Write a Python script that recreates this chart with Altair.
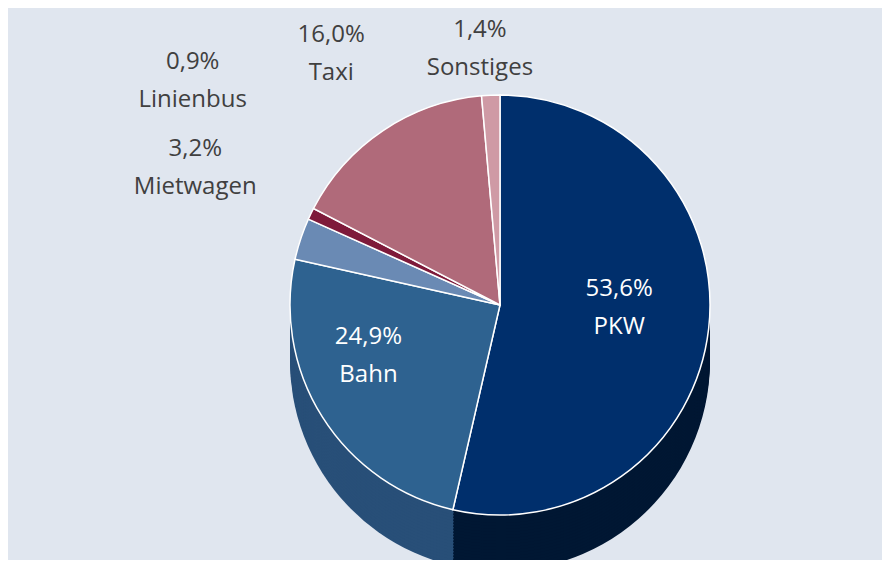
import altair as alt
import pandas as pd

categories = ["PKW", "Bahn", "Mietwagen", "Linienbus", "Taxi", "Sonstiges"]
values = [53.6, 24.9, 3.2, 0.9, 16.0, 1.4]
top_colors = ["#002f6c", "#2e6290", "#6a8ab4", "#7e1a3a", "#b06a7a", "#cf9aa5"]
side_colors = ["#001733", "#284f78", "#4f6b90", "#5a1028", "#8a4f5c", "#a77a84"]

df = pd.DataFrame({
    "cat": categories,
    "value": values,
    "idx": list(range(len(categories))),
    "pct": [f"{v:.1f}".replace(".", ",") + "%" for v in values],
})

# pie centre in view coordinates (page = view + 8)
CX, CY, R, DEPTH = 492, 297, 210, 56

theta = alt.Theta("value:Q", stack=True)
order = alt.Order("idx:Q")


def arc_layer(dy, colors, stroke):
    kw = dict(radius=R)
    if stroke:
        kw.update(stroke="white", strokeWidth=1.5)
    return alt.Chart(df).mark_arc(**kw).encode(
        theta=theta,
        order=order,
        color=alt.Color("cat:N", scale=alt.Scale(domain=categories, range=colors), legend=None),
        x=alt.value(CX),
        y=alt.value(CY + dy),
    )


layers = []
for off in range(DEPTH, 0, -3):
    layers.append(arc_layer(off, side_colors, False))
layers.append(arc_layer(0, top_colors, True))


def label_layer(name, radius, color, dx=0, dy=0):
    return alt.Chart(df).transform_calculate(
        lab=f"datum.cat == '{name}' ? datum.pct + '|' + datum.cat : ''"
    ).mark_text(
        radius=radius, fontSize=24, font="Open Sans", color=color,
        lineBreak="|", lineHeight=38, dx=dx, dy=dy,
    ).encode(
        theta=theta,
        order=order,
        text="lab:N",
        x=alt.value(CX),
        y=alt.value(CY),
    )


layers.append(label_layer("PKW", 120, "white", dx=0, dy=-30))
layers.append(label_layer("Bahn", 120, "white", dx=-30, dy=-32))
layers.append(label_layer("Mietwagen", 300, "#404040", dx=-20, dy=-62))
layers.append(label_layer("Linienbus", 380, "#404040", dx=35, dy=-78))
layers.append(label_layer("Taxi", 330, "#404040", dx=15, dy=4))
layers.append(label_layer("Sonstiges", 275, "#404040", dx=-8, dy=0))

chart = alt.layer(*layers).resolve_scale(color="independent").properties(
    width=874, height=552, padding=0,
    autosize=alt.AutoSizeParams(type="none"),
    background="#e0e6ef",
).configure_view(stroke=None)

chart.save("out.html", embed_options={"renderer": "svg", "actions": False})
